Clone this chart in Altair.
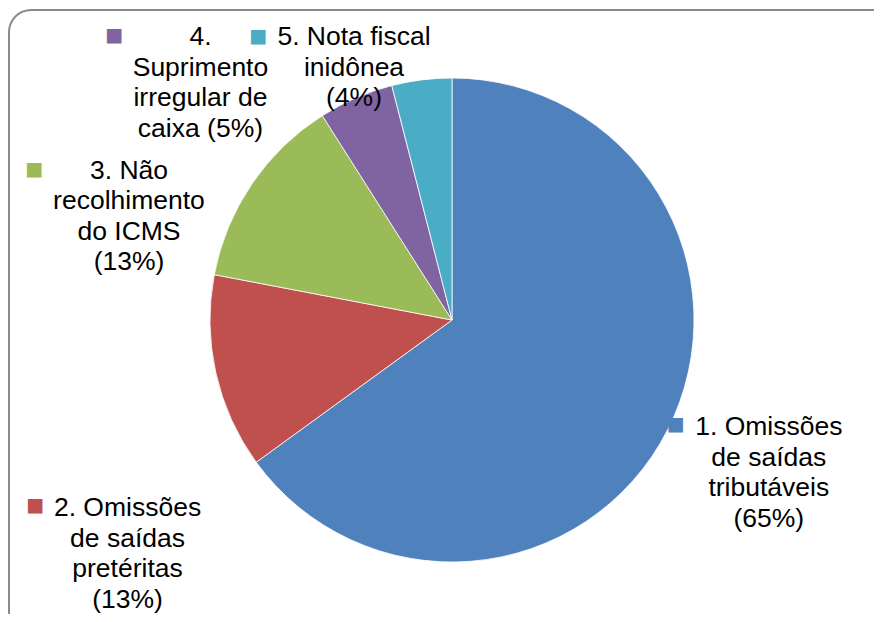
import math
import altair as alt
import pandas as pd

# ---- data ----
categories = [
    "1. Omissões de saídas tributáveis",
    "2. Omissões de saídas pretéritas",
    "3. Não recolhimento do ICMS",
    "4. Suprimento irregular de caixa",
    "5. Nota fiscal inidônea",
]
values = [65, 13, 13, 5, 4]
label_texts = [
    "1. Omissões\nde saídas\ntributáveis\n(65%)",
    "2. Omissões\nde saídas\npretéritas\n(13%)",
    "3. Não\nrecolhimento\ndo ICMS\n(13%)",
    "4.\nSuprimento\nirregular de\ncaixa (5%)",
    "5. Nota fiscal\ninidônea\n(4%)",
]
colors = ["#4F81BD", "#C0504D", "#9BBB59", "#8064A2", "#4BACC6"]

df = pd.DataFrame({
    "cat": categories,
    "value": values,
    "label": label_texts,
    "order": list(range(len(categories))),
})

# ---- layout / style ----
FONT = "Liberation Sans, Arial, sans-serif"
W, H = 865, 604
CX, CY = 443, 310          # pie centre inside the view
R = 242                    # pie radius
LABEL_R = 300              # anchor radius for labels (at slice mid-angle)
label_offsets = [(49.5, -29.0), (-31.7, 122.6), (-74.9, 19.6), (-132.4, -7.5), (-60.4, 15.0)]
marker_offsets = [(-43.8, -31.0), (-124.2, 120.6), (-169.9, 18.8), (-218.9, -8.5), (-156.4, 14.4)]
FRAME = "#8a8a8a"
CR = 22                    # frame corner radius

color = alt.Color("cat:N", scale=alt.Scale(domain=categories, range=colors), legend=None)
base = alt.Chart(df)

pie = base.mark_arc(outerRadius=R, stroke="white", strokeWidth=0.8).encode(
    theta=alt.Theta("value:Q", stack=True),
    color=color,
    order=alt.Order("order:Q"),
    x=alt.value(CX),
    y=alt.value(CY),
)

mid_base = (
    base.transform_window(cum="sum(value)", sort=[alt.SortField("order")])
    .transform_calculate(mid="datum.cum - datum.value / 2")
)
theta_mid = alt.Theta("mid:Q", scale=alt.Scale(domain=[0, sum(values)], nice=False, zero=True))

layers = [pie]
for i in range(len(categories)):
    sub = mid_base.transform_filter(f"datum.order == {i}")
    ldx, ldy = label_offsets[i]
    mdx, mdy = marker_offsets[i]
    txt = sub.mark_text(
        radius=LABEL_R, dx=ldx, dy=ldy, font=FONT, fontSize=26.5, lineHeight=30.5,
        lineBreak="\n", align="center", baseline="middle", color="#000000",
    ).encode(theta=theta_mid, text="label:N", x=alt.value(CX), y=alt.value(CY))
    mk = sub.mark_text(
        radius=LABEL_R, dx=mdx, dy=mdy, font=FONT, fontSize=30,
        align="center", baseline="middle",
    ).encode(theta=theta_mid, text=alt.value("■"), color=color,
             x=alt.value(CX), y=alt.value(CY))
    layers += [txt, mk]

# ---- rounded frame (top and left edges visible, the rest lies outside the window) ----
one = alt.Chart(pd.DataFrame({"a": [0]}))
frame_top = one.mark_rule(color=FRAME, strokeWidth=2).encode(
    x=alt.value(CR), x2=alt.value(W + 1), y=alt.value(0))
frame_left = one.mark_rule(color=FRAME, strokeWidth=2).encode(
    x=alt.value(0), y=alt.value(CR), y2=alt.value(H))
corner_tl = one.mark_arc(innerRadius=CR - 1, outerRadius=CR + 1, theta=1.5 * math.pi,
                         theta2=2 * math.pi, color=FRAME).encode(
    x=alt.value(CR), y=alt.value(CR))

chart = alt.layer(frame_top, frame_left, corner_tl, *layers).resolve_scale(
    theta="independent"
).properties(
    width=W, height=H,
    padding={"left": 1, "top": 2, "right": 0, "bottom": 0},
    autosize=alt.AutoSizeParams(type="none"),
).configure_view(stroke=None)

chart.save("out.html", embed_options={"renderer": "svg", "actions": False})
